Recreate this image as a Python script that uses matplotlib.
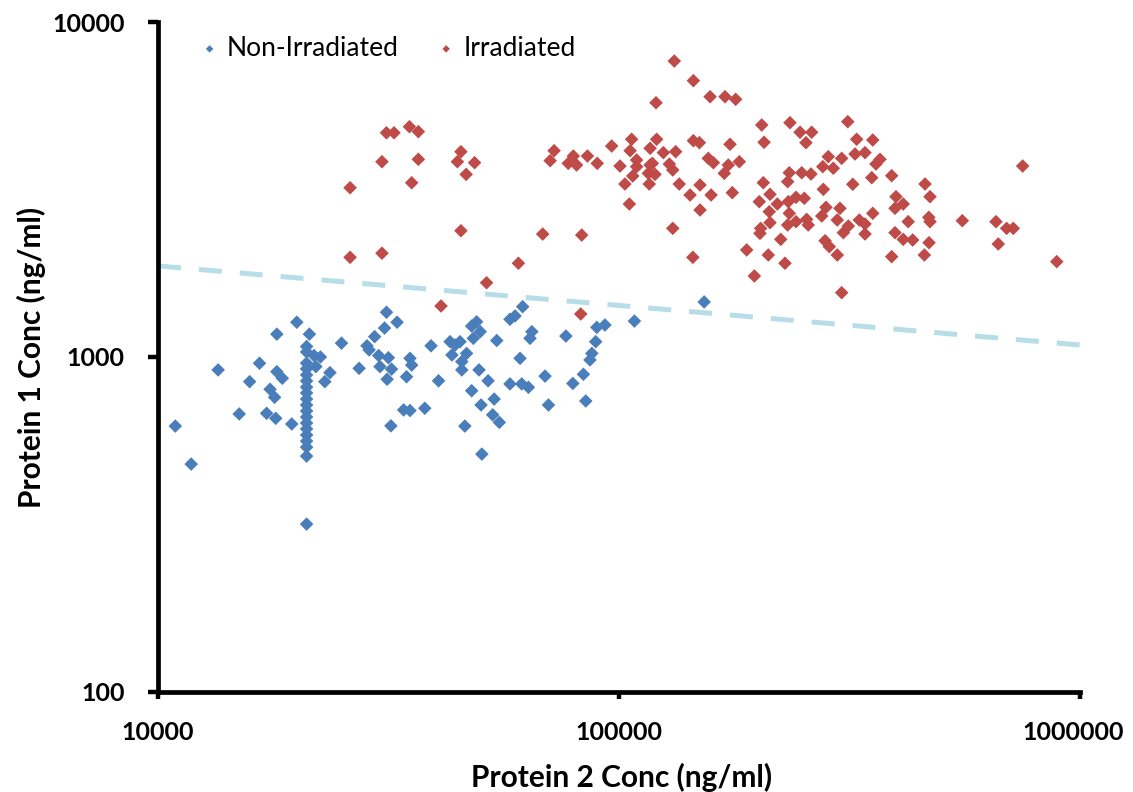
import numpy as np
import matplotlib
matplotlib.use("Agg")
import matplotlib.pyplot as plt
from matplotlib.transforms import ScaledTranslation

plt.rcParams['font.family'] = ['Lato', 'DejaVu Sans']

# Non-irradiated samples: protein 2 (x) vs protein 1 (y), ng/ml
non_irr_p2 = [20000, 18100, 21300, 25000, 21000, 21000, 21800, 22500, 13500, 16600,
              18100, 18600, 15800, 22000, 23600, 23000, 27300, 17500, 17900, 15000,
              17200, 18000, 19500, 10900, 11800,
              21000, 21000, 21000, 21000, 21000, 21000, 21000, 21000, 21000, 21000,
              21000, 21000, 21000, 21000, 21000, 21000, 21000,
              31300, 33000, 31000, 29500, 28400, 28700, 30100, 31600, 30300, 32100,
              31400, 35200, 35500, 34600, 39100, 40600, 32000, 34100, 35200, 37900,
              46300, 50400, 47900, 49100, 50000, 48300, 54300, 43000, 44100, 45200,
              43400, 46700, 45600, 45600, 49700, 52000, 47900, 53600, 50200, 53200,
              55000, 61000, 58000, 59500, 61800, 64700, 64100, 58000, 61500, 63600,
              69100, 70300,
              153000, 108000, 89500, 93200, 76700, 89000, 87300, 86500, 83700, 79400,
              84700]
non_irr_p1 = [1270, 1170, 1170, 1100, 1075, 1035, 1010, 1000, 915, 958,
              904, 864, 844, 936, 898, 844, 925, 801, 758, 676,
              679, 656, 631, 622, 479,
              959, 922, 884, 848, 813, 781, 749, 719, 690, 662,
              635, 610, 585, 561, 538, 506, 317,
              1360, 1270, 1220, 1150, 1080, 1050, 1010, 995, 936, 920,
              858, 991, 946, 873, 1080, 849, 623, 695, 692, 703,
              622, 513, 1237, 1274, 1190, 1137, 1120, 1111, 1086, 1111,
              1014, 1025, 969, 915, 915, 849, 793, 749, 719, 672,
              638, 991, 1296, 1326, 1413, 1190, 1137, 831, 831, 812,
              877, 719,
              1460, 1280, 1226, 1246, 1155, 1111, 1025, 980, 888, 834,
              739]

# Irradiated samples
irr_p2 = [31300, 32500, 35100, 36700, 30600, 36700, 35500, 26100, 45400, 44600,
          48600, 46600, 45400, 26100, 30600, 68300, 60500, 51600, 41100, 82600,
          131800, 145000, 157600, 169800, 179100, 120300, 96400, 106500, 105700, 120700,
          116800, 124800, 132700, 145000, 149400, 174100, 72300, 70900, 77600, 79600,
          80900, 85400, 89700, 100500, 109200, 109200, 107100, 103000, 116800, 118100,
          115800, 119700, 116300, 128600, 130800, 135100, 105300, 142600, 149900, 158400,
          149900, 156200, 160200, 172600, 169200, 182400, 176100, 83000, 130800, 144600,
          204000, 206400, 234900, 247000, 261800, 254400, 313500, 327800, 355200, 325100,
          341700, 368300, 360900, 390400, 353400, 304100, 284400, 291600, 276700, 234100,
          249100, 260900, 232200, 321400, 277500, 205600, 212600, 201500, 220500, 211800,
          212600, 202900, 202200, 233000, 234100, 242100, 252300, 232200, 242100, 255300,
          257300, 281200, 275300, 301500, 297500, 224300, 210800, 189200, 229100, 196600,
          279900, 285900, 297500, 304100, 314400, 306700, 332100, 341700, 341700, 355200,
          398900, 413600, 396900, 424000, 396900, 413600, 433600, 390400, 461200, 472800,
          470000, 472800, 470500, 459600, 555500, 657300, 693400, 716600, 664900, 751000,
          890400]
irr_p1 = [4670, 4670, 4870, 4707, 3828, 3892, 3313, 3201, 4101, 3828,
          3802, 3509, 2382, 1984, 2041, 2328, 1905, 1666, 1420, 1344,
          7647, 6683, 5984, 5984, 5878, 5741, 4264, 4466, 4129, 4466,
          4198, 4074, 4101, 4423, 4363, 4315, 4129, 3855, 3785, 3981,
          3742, 3981, 3785, 3716, 3873, 3700, 3470, 3284, 3742, 3785,
          3534, 3509, 3284, 3767, 3616, 3284, 2862, 3045, 3262, 3045,
          2747, 3917, 3802, 3742, 3534, 3828, 3094, 2312, 2421, 1984,
          4927, 4375, 5006, 4687, 4687, 4363, 5041, 4466, 4444, 4036,
          4074, 3892, 3767, 3477, 3430, 3917, 3963, 3660, 3700, 3548,
          3548, 3518, 3337, 3278, 3166, 3313, 3059, 2908, 2862, 2715,
          2518, 2421, 2339, 2908, 2685, 2997, 2977, 2478, 2535, 2576,
          2478, 2798, 2636, 2779, 2564, 2245, 2016, 2087, 1905, 1745,
          2224, 2135, 2016, 1556, 2460, 2350, 2564, 2495, 2329, 2685,
          3010, 2862, 2779, 2535, 2350, 2245, 2235, 1993, 3284, 3010,
          2612, 2535, 2194, 2016, 2552, 2535, 2421, 2421, 2175, 3716,
          1926]

# separating line between the two groups
cut_x = [10000, 1000000]
cut_y = [1870, 1086]

x_ticks = [10000, 100000, 1000000]
y_ticks = [100, 1000, 10000]

fig = plt.figure(figsize=(11.33, 7.92), dpi=100)
ax = fig.add_axes([0.1395, 0.1263, 0.8137, 0.8459])

ax.scatter(non_irr_p2, non_irr_p1, marker='D', s=48, color='#4A7EBB',
           edgecolors='none', label='Non-Irradiated', zorder=3)
ax.scatter(irr_p2, irr_p1, marker='D', s=48, color='#BE4B48',
           edgecolors='none', label='Irradiated', zorder=3)
ax.plot(cut_x, cut_y, color='#B7DEE8', linewidth=3.6,
        linestyle=(0, (4.6, 3.6)), zorder=2)

ax.set_xscale('log')
ax.set_yscale('log')
ax.set_xlim(10000, 1000000)
ax.set_ylim(100, 10000)
ax.set_xticks(x_ticks)
ax.set_xticklabels([str(v) for v in x_ticks])
ax.set_yticks(y_ticks)
ax.set_yticklabels([str(v) for v in y_ticks])
ax.minorticks_off()

for side in ['top', 'right']:
    ax.spines[side].set_visible(False)
for side in ['left', 'bottom']:
    ax.spines[side].set_linewidth(3.4)
ax.tick_params(axis='both', which='major', direction='out', width=3.2,
               labelsize=18, color='black')
ax.tick_params(axis='y', length=7, pad=17)
ax.tick_params(axis='x', length=5, pad=16)
for lab in ax.get_xticklabels() + ax.get_yticklabels():
    lab.set_fontweight('bold')

# nudge the last x label in so it stays on the canvas
last = ax.get_xticklabels()[-1]
last.set_transform(last.get_transform() +
                   ScaledTranslation(-5 / 72, 0, fig.dpi_scale_trans))

ax.set_xlabel('Protein 2 Conc (ng/ml)', fontsize=21.5, fontweight='bold')
ax.set_ylabel('Protein 1 Conc (ng/ml)', fontsize=21.5, fontweight='bold')
ax.xaxis.set_label_coords(0.503, -0.127)
ax.xaxis.label.set_va('center')
ax.yaxis.set_label_coords(-0.137, 0.5)
ax.yaxis.label.set_va('center')

ax.legend(loc='center left', bbox_to_anchor=(0.178, 0.939),
          bbox_transform=fig.transFigure, ncol=2, frameon=False,
          fontsize=19, markerscale=0.55, handlelength=0.6, handletextpad=0.35,
          columnspacing=1.5, borderpad=0, borderaxespad=0)

fig.savefig('out.png', dpi=100)
